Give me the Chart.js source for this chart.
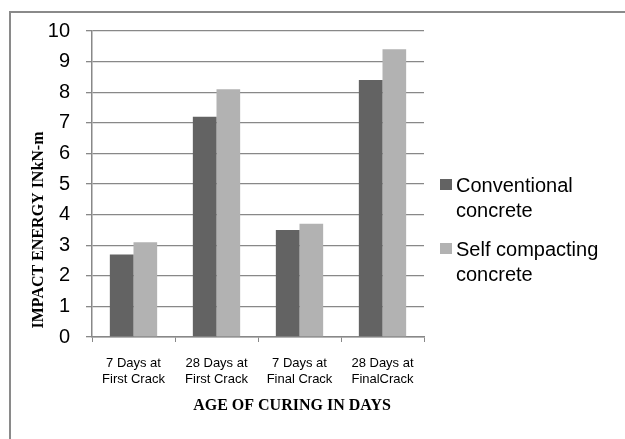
<!DOCTYPE html>
<html>
<head>
<meta charset="utf-8">
<script src="https://cdn.jsdelivr.net/npm/chart.js@4/dist/chart.umd.min.js"></script>
<style>
  html, body { margin: 0; padding: 0; background: #fff; }
  #wrap { width: 625px; height: 439px; position: relative; }
</style>
</head>
<body>
<div id="wrap"><canvas id="impactChart"></canvas></div>
<script>
// Data
const categories = [
  ["7 Days at", "First Crack"],
  ["28 Days at", "First Crack"],
  ["7 Days at", "Final Crack"],
  ["28 Days at", "FinalCrack"]
];
const seriesNames = [["Conventional", "concrete"], ["Self compacting", "concrete"]];
const conventional = [2.7, 7.2, 3.5, 8.4];
const selfCompacting = [3.1, 8.1, 3.7, 9.4];
const yTicks = [0, 1, 2, 3, 4, 5, 6, 7, 8, 9, 10];
const colors = ["#636363", "#b2b2b2"];

// frame, axis titles and a two-line legend, drawn the way the original looks
const decorations = {
  id: 'decorations',
  afterDraw(chart) {
    const ctx = chart.ctx;
    ctx.save();
    // top and left frame lines
    ctx.strokeStyle = '#8a8a8a';
    ctx.lineWidth = 2;
    ctx.beginPath();
    ctx.moveTo(10, 439);
    ctx.lineTo(10, 12);
    ctx.lineTo(625, 12);
    ctx.stroke();

    // axis titles
    ctx.fillStyle = '#000';
    ctx.font = 'bold 16px "Liberation Serif", "Times New Roman", serif';
    ctx.textAlign = 'center';
    ctx.textBaseline = 'middle';
    ctx.fillText('AGE OF CURING IN DAYS', 292, 406);
    ctx.translate(39, 230);
    ctx.rotate(-Math.PI / 2);
    ctx.fillText('IMPACT ENERGY INkN-m', 0, 0);
    ctx.setTransform(1, 0, 0, 1, 0, 0);

    // legend
    ctx.font = '20px "Liberation Sans", Arial, sans-serif';
    ctx.textAlign = 'left';
    ctx.textBaseline = 'alphabetic';
    chart.data.datasets.forEach((ds, i) => {
      const top = 179 + i * 64;
      ctx.fillStyle = ds.backgroundColor;
      ctx.fillRect(440, top, 12, 11);
      ctx.fillStyle = '#000';
      seriesNames[i].forEach((line, j) => {
        ctx.fillText(line, 456, top + 13 + j * 25);
      });
    });
    ctx.restore();
  }
};

const config = {
  type: 'bar',
  data: {
    labels: categories,
    datasets: [
      { label: seriesNames[0].join(' '), data: conventional, backgroundColor: colors[0] },
      { label: seriesNames[1].join(' '), data: selfCompacting, backgroundColor: colors[1] }
    ]
  },
  options: {
    responsive: true,
    maintainAspectRatio: false,
    animation: false,
    layout: { padding: { left: 10, top: 31, right: 201, bottom: 0 } },
    plugins: {
      legend: { display: false },
      tooltip: { enabled: false }
    },
    datasets: {
      bar: { categoryPercentage: 0.57, barPercentage: 1.0 }
    },
    scales: {
      x: {
        afterFit(scale) { scale.height = 102; },
        grid: { drawOnChartArea: false, color: '#888', tickLength: 5 },
        border: { color: '#888', width: 1.5 },
        ticks: {
          color: '#000',
          padding: 14,
          maxRotation: 0,
          font: { family: '"Liberation Sans", Arial, sans-serif', size: 13, lineHeight: 1.2 }
        }
      },
      y: {
        min: 0,
        max: 10,
        afterFit(scale) { scale.width = 82; },
        afterBuildTicks(scale) { scale.ticks = yTicks.map(v => ({ value: v })); },
        grid: { color: '#888', lineWidth: 1.3, tickLength: 6 },
        border: { color: '#888', width: 1.5 },
        ticks: {
          color: '#000',
          padding: 16,
          font: { family: '"Liberation Sans", Arial, sans-serif', size: 20 }
        }
      }
    }
  },
  plugins: [decorations]
};

window.addEventListener('DOMContentLoaded', () => {
  new Chart(document.getElementById('impactChart'), config);
});
</script>
</body>
</html>
